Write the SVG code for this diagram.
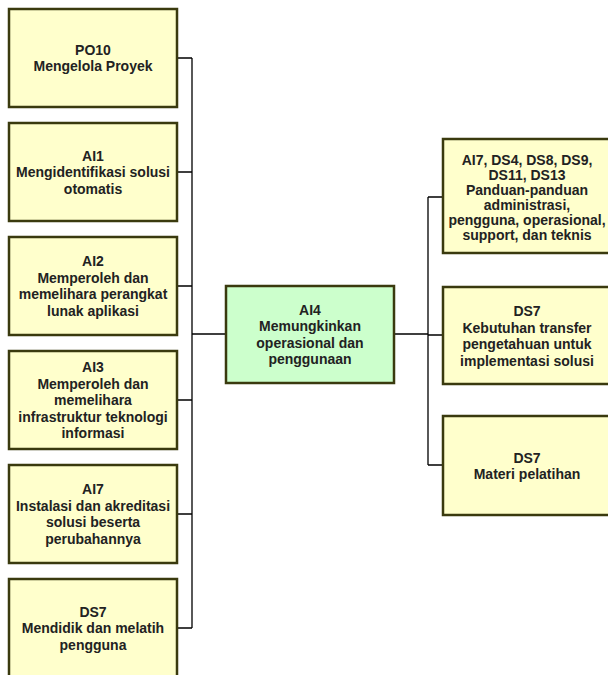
<svg xmlns="http://www.w3.org/2000/svg" width="608" height="675" viewBox="0 0 608 675">
<style>
.box{fill:#ffffcc;stroke:#3a3a0e;stroke-width:2.5}
.main{fill:#ccffcc;stroke:#3a3a0e;stroke-width:2.5}
.t{font-family:"Liberation Sans",Arial,sans-serif;font-weight:bold;font-size:14px;fill:#222;text-anchor:middle}
.c{fill:none;stroke:#000;stroke-width:1.3}
</style>
<rect width="608" height="675" fill="#fff"/>
<g id="connectors">
<path class="c" d="M177 58H192M177 172H192M177 286H192M177 400H192M177 514H192M177 628H192M192 58V628M192 334H226"/>
<path class="c" d="M394 334H428M428 197V465M428 197H443M428 335H443M428 465H443"/>
</g>
<g id="po10"><rect class="box" x="9" y="9" width="168" height="98"/>
<text class="t"><tspan x="93" y="54.75">PO10</tspan><tspan x="93" y="71.25">Mengelola Proyek</tspan></text></g>
<g id="ai1"><rect class="box" x="9" y="123" width="168" height="98"/>
<text class="t"><tspan x="93" y="160.5">AI1</tspan><tspan x="93" y="177">Mengidentifikasi solusi</tspan><tspan x="93" y="193.5">otomatis</tspan></text></g>
<g id="ai2"><rect class="box" x="9" y="237" width="168" height="98"/>
<text class="t"><tspan x="93" y="266.25">AI2</tspan><tspan x="93" y="282.75">Memperoleh dan</tspan><tspan x="93" y="299.25">memelihara perangkat</tspan><tspan x="93" y="315.75">lunak aplikasi</tspan></text></g>
<g id="ai3"><rect class="box" x="9" y="351" width="168" height="98"/>
<text class="t"><tspan x="93" y="372">AI3</tspan><tspan x="93" y="388.5">Memperoleh dan</tspan><tspan x="93" y="405">memelihara</tspan><tspan x="93" y="421.5">infrastruktur teknologi</tspan><tspan x="93" y="438">informasi</tspan></text></g>
<g id="ai7"><rect class="box" x="9" y="465" width="168" height="98"/>
<text class="t"><tspan x="93" y="494.25">AI7</tspan><tspan x="93" y="510.75">Instalasi dan akreditasi</tspan><tspan x="93" y="527.25">solusi beserta</tspan><tspan x="93" y="543.75">perubahannya</tspan></text></g>
<g id="ds7-left"><rect class="box" x="9" y="579" width="168" height="98"/>
<text class="t"><tspan x="93" y="616.5">DS7</tspan><tspan x="93" y="633">Mendidik dan melatih</tspan><tspan x="93" y="649.5">pengguna</tspan></text></g>
<g id="ai4"><rect class="main" x="226" y="286" width="168" height="97"/>
<text class="t"><tspan x="310" y="314.75">AI4</tspan><tspan x="310" y="331.25">Memungkinkan</tspan><tspan x="310" y="347.75">operasional dan</tspan><tspan x="310" y="364.25">penggunaan</tspan></text></g>
<g id="guides"><rect class="box" x="443" y="139" width="168" height="114"/>
<text class="t"><tspan x="527" y="165">AI7, DS4, DS8, DS9,</tspan><tspan x="527" y="180">DS11, DS13</tspan><tspan x="527" y="195">Panduan-panduan</tspan><tspan x="527" y="210">administrasi,</tspan><tspan x="527" y="225">pengguna, operasional,</tspan><tspan x="527" y="240">support, dan teknis</tspan></text></g>
<g id="ds7-transfer"><rect class="box" x="443" y="287" width="168" height="97"/>
<text class="t"><tspan x="527" y="316">DS7</tspan><tspan x="527" y="332.5">Kebutuhan transfer</tspan><tspan x="527" y="349">pengetahuan untuk</tspan><tspan x="527" y="365.5">implementasi solusi</tspan></text></g>
<g id="ds7-materi"><rect class="box" x="443" y="416" width="168" height="99"/>
<text class="t"><tspan x="527" y="463">DS7</tspan><tspan x="527" y="479">Materi pelatihan</tspan></text></g>
</svg>
